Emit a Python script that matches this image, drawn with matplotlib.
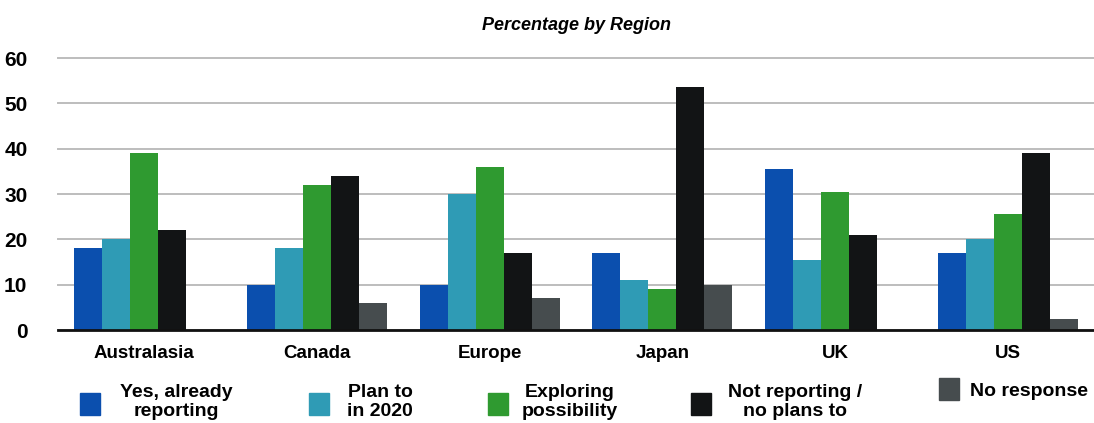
import matplotlib
matplotlib.use("Agg")
import matplotlib.pyplot as plt
import numpy as np
from matplotlib.patches import Rectangle

regions = ["Australasia", "Canada", "Europe", "Japan", "UK", "US"]
series = ["Yes, already\nreporting", "Plan to\nin 2020", "Exploring\npossibility",
          "Not reporting /\nno plans to", "No response"]
yes_reporting = [18, 10, 10, 17, 35.5, 17]
plan_2020 = [20, 18, 30, 11, 15.5, 20]
exploring = [39, 32, 36, 9, 30.5, 25.5]
not_reporting = [22, 34, 17, 53.5, 21, 39]
no_response = [0, 6, 7, 10, 0, 2.5]
colors = ["#0b4fae", "#2f9bb5", "#2f9a30", "#121415", "#464c4e"]

values = [yes_reporting, plan_2020, exploring, not_reporting, no_response]

plt.rcParams["font.family"] = ["Liberation Sans", "DejaVu Sans"]

W, H = 1094, 423
fig = plt.figure(figsize=(W / 100, H / 100), dpi=100)
ax = fig.add_axes([58 / W, 93 / H, 1036 / W, 272 / H])

x = np.arange(len(regions))
bw = 0.162
for i, (vals, c) in enumerate(zip(values, colors)):
    ax.bar(x + (i - 2) * bw, vals, bw, color=c, zorder=3)

ax.set_xlim(-0.5, len(regions) - 0.5)
ax.set_ylim(0, 60)
ax.set_yticks(range(0, 61, 10))
ax.set_xticks(x)
ax.set_xticklabels(regions, fontsize=13.5, fontweight="bold")
ax.tick_params(axis="both", length=0)
ax.tick_params(axis="y", pad=22, labelsize=15)
ax.tick_params(axis="x", pad=11)
for t in ax.get_yticklabels():
    t.set_fontweight("bold")
ax.yaxis.grid(True, color="#bdbdbd", linewidth=1.4, zorder=0, clip_on=False)
for s in ["top", "right", "left"]:
    ax.spines[s].set_visible(False)
ax.spines["bottom"].set_linewidth(2)
ax.spines["bottom"].set_color("#111111")
ax.spines["bottom"].set_zorder(4)

ax.set_title("Percentage by Region", fontsize=13, fontweight="bold",
             style="italic", pad=20)

# legend, laid out by hand like the original
mark_left = [80, 309, 488, 691, 939]
text_x = [176, 380, 570, 795, 970]
for i, (lab, c) in enumerate(zip(series, colors)):
    single = "\n" not in lab
    my = 389 if single else 404
    fig.patches.append(Rectangle((mark_left[i] / W, 1 - (my + 11) / H), 20 / W, 22 / H,
                                 transform=fig.transFigure, color=c))
    if single:
        fig.text(text_x[i] / W, 1 - 391 / H, lab, ha="left", va="center",
                 fontsize=14, fontweight="bold")
    else:
        fig.text(text_x[i] / W, 1 - 402 / H, lab, ha="center", va="center",
                 multialignment="center", fontsize=14, fontweight="bold",
                 linespacing=1.15)

fig.savefig("out.png", dpi=100)
